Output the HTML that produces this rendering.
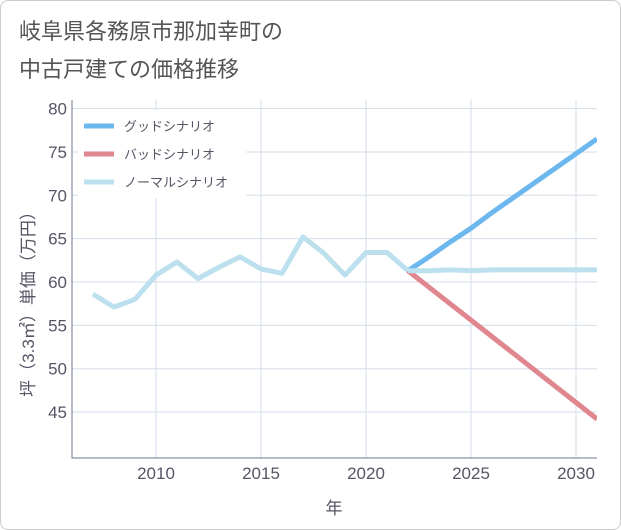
<!DOCTYPE html>
<html><head><meta charset="utf-8"><style>
body{margin:0;background:#fff;}
#wrap{position:relative;width:619px;height:528px;border:1px solid #ccc;border-radius:8px;background:#fff;overflow:hidden;font-family:"Liberation Sans","Noto Sans CJK JP",sans-serif;}
#title{position:absolute;left:18px;top:12px;font-size:22px;line-height:38px;color:#555;}
svg text{font-family:"Liberation Sans","Noto Sans CJK JP",sans-serif;}
</style></head><body>
<div id="wrap">
<div id="title">岐阜県各務原市那加幸町の<br>中古戸建ての価格推移</div>
<svg id="chart" width="621" height="530" style="position:absolute;left:-1px;top:-1px"></svg>
</div>
<script>
const histYears=[2007,2008,2009,2010,2011,2012,2013,2014,2015,2016,2017,2018,2019,2020,2021,2022];
const histValues=[58.6,57.1,58.0,60.8,62.3,60.4,61.7,62.9,61.5,61.0,65.2,63.3,60.8,63.4,63.4,61.3];
const projYears=[2022,2023,2024,2025,2026,2027,2028,2029,2030,2031];
const goodValues=[61.3,62.9,64.6,66.2,68.0,69.7,71.4,73.1,74.8,76.5];
const badValues=[61.3,59.4,57.5,55.6,53.7,51.8,49.9,48.0,46.1,44.2];
const normalValues=[61.3,61.3,61.4,61.3,61.4,61.4,61.4,61.4,61.4,61.4];
const yTicks=[45,50,55,60,65,70,75,80];
const xTicks=[2010,2015,2020,2025,2030];
const legendLabels=["グッドシナリオ","バッドシナリオ","ノーマルシナリオ"];

const NS="http://www.w3.org/2000/svg";
const svg=document.getElementById('chart');
const L=72,R=597,T=100,B=458;
const xs=y=>156+(y-2010)*21;
const ys=v=>282-(v-60)*8.67;
function mk(tag,attrs,parent){const e=document.createElementNS(NS,tag);for(const k in attrs)e.setAttribute(k,attrs[k]);(parent||svg).appendChild(e);return e;}
const cp=mk('clipPath',{id:'cp'});mk('rect',{x:L,y:T,width:R-L,height:B-T},cp);
for(const t of yTicks){
 const g=mk('line',{x1:L,x2:R,y1:ys(t),y2:ys(t),stroke:'#d5dee8','stroke-width':1});
 
 
 const tx=mk('text',{x:L-5,y:ys(t)+6,'text-anchor':'end','font-size':17,fill:'#556'});tx.textContent=t;
 
 
}
for(const t of xTicks){
 const g=mk('line',{x1:xs(t),x2:xs(t),y1:T,y2:B,stroke:'#d5dee8','stroke-width':1});
 
 
 const tx=mk('text',{x:xs(t),y:B+21,'text-anchor':'middle','font-size':17,fill:'#556'});tx.textContent=t;
 
 
}
const ax=mk('path',{d:`M${L} ${T}V${B}H${R}`,fill:'none',stroke:'#6a7a90','stroke-width':1});


function line(xsA,vals,color,name){
 const p=mk('polyline',{points:xsA.map((y,i)=>xs(y)+','+ys(vals[i])).join(' '),fill:'none',stroke:color,'stroke-width':5,'stroke-linejoin':'round','clip-path':'url(#cp)'});
 
 
}
line(projYears,badValues,'#e0868f','bad-scenario-line');
line(projYears,goodValues,'#6cb8ee','good-scenario-line');
line(histYears,histValues,'#bde0ee','history-line');
line(projYears,normalValues,'#bde0ee','normal-scenario-line');
const lg=mk('rect',{x:78,y:110,width:168,height:88,fill:'#fff'});


const lc=['#6cb8ee','#e0868f','#bde0ee'];
legendLabels.forEach((s,i)=>{
 const y=126+i*28;
 const l=mk('line',{x1:84,x2:114,y1:y,y2:y,stroke:lc[i],'stroke-width':5});
 
 
 const t=mk('text',{x:124,y:y+5,'font-size':13,fill:'#556'});t.textContent=s;
 
 
});
const xt=mk('text',{x:334,y:514,'text-anchor':'middle','font-size':17,fill:'#556'});xt.textContent='年';


const yt=mk('text',{x:0,y:0,'text-anchor':'middle','font-size':17,fill:'#556',transform:'translate(34,300) rotate(-90)'});yt.textContent='坪（3.3㎡）単価（万円）';


</script>
</body></html>
